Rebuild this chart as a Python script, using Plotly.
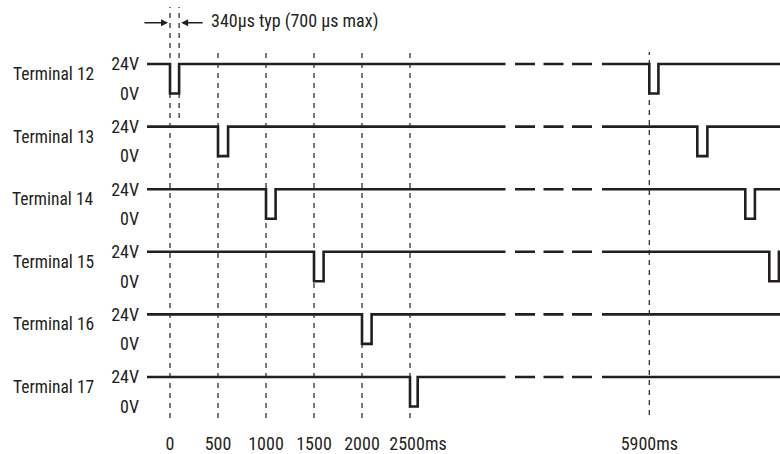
import plotly.graph_objects as go

# ---------------- data ----------------
TERMINALS = ["Terminal 12", "Terminal 13", "Terminal 14", "Terminal 15", "Terminal 16", "Terminal 17"]
PULSE_START_MS = [0, 500, 1000, 1500, 2000, 2500]          # first test pulse (early window)
PULSE_START_LATE_MS = [5900, 6400, 6900, 7150, None, None]  # pulses after the time break
PULSE_WIDTH_MS = [95, 105, 100, 100, 100, 80]
V_HIGH = 24
V_LOW = 0
TICK_MS = [0, 500, 1000, 1500, 2000, 2500]
TICK_LABELS = ["0", "500", "1000", "1500", "2000", "2500ms"]
LATE_TICK_MS = [5900]
LATE_TICK_LABELS = ["5900ms"]
MARKER_TEXT = "340µs typ (700 µs max)"

# ---------------- layout constants (pixels) ----------------
W, H = 780, 454
PX_PER_MS = 0.096
ORIGIN_PX = 170.0        # pixel of 0 ms
LATE_ORIGIN_PX = 649.3   # pixel of 5900 ms
LEFT_START_PX, LEFT_END_PX = 147.0, 505.7
BREAK_START_PX, BREAK_END_PX = 515.0, 592.0
RIGHT_START_PX, RIGHT_END_PX = 602.0, 780.0
ROW_PX = 62.6
TOP_PX = 64.0
AMP_PX = 29.5

INK = "#231f20"
FONT = "Liberation Sans Narrow, Arial Narrow, Roboto Condensed, DejaVu Sans Condensed, sans-serif"


def ms_at(px, origin_px, origin_ms):
    return origin_ms + (px - origin_px) / PX_PER_MS


def yval(row, volts):
    return row + (V_HIGH - volts) / (V_HIGH - V_LOW) * AMP_PX / ROW_PX


def py(px):
    return 1 - px / H


left_range = [ms_at(LEFT_START_PX, ORIGIN_PX, 0), ms_at(LEFT_END_PX, ORIGIN_PX, 0)]
right_range = [ms_at(RIGHT_START_PX, LATE_ORIGIN_PX, LATE_TICK_MS[0]),
               ms_at(RIGHT_END_PX, LATE_ORIGIN_PX, LATE_TICK_MS[0])]

fig = go.Figure()
line = dict(color=INK, width=2.6)

for i, name in enumerate(TERMINALS):
    hi, lo = yval(i, V_HIGH), yval(i, V_LOW)
    t, w = PULSE_START_MS[i], PULSE_WIDTH_MS[i]
    fig.add_trace(go.Scatter(
        x=[left_range[0], t, t, t + w, t + w, left_range[1]],
        y=[hi, hi, lo, lo, hi, hi], mode="lines", line=line,
        xaxis="x", yaxis="y", showlegend=False, hoverinfo="skip"))
    # time-break dashes
    fig.add_trace(go.Scatter(
        x=[0, 1], y=[hi, hi], mode="lines",
        line=dict(color=INK, width=2.6, dash="20px,8.5px"),
        xaxis="x3", yaxis="y", showlegend=False, hoverinfo="skip"))
    tl = PULSE_START_LATE_MS[i]
    if tl is not None:
        xs = [right_range[0], tl, tl, tl + w, tl + w, right_range[1]]
        ys = [hi, hi, lo, lo, hi, hi]
    else:
        xs, ys = [right_range[0], right_range[1]], [hi, hi]
    fig.add_trace(go.Scatter(
        x=xs, y=ys, mode="lines", line=line,
        xaxis="x2", yaxis="y", showlegend=False, hoverinfo="skip"))

# empty trace so the overlaying label axis (x4) is drawn
fig.add_trace(go.Scatter(x=[], y=[], xaxis="x4", yaxis="y", showlegend=False, hoverinfo="skip"))

# y ticks: 24V / 0V for each terminal
ytickvals, yticktext = [], []
for i in range(len(TERMINALS)):
    ytickvals += [yval(i, V_HIGH), yval(i, V_LOW)]
    yticktext += [f"{V_HIGH}V", f"{V_LOW}V"]

y_top = -TOP_PX / ROW_PX
y_bottom = y_top + H / ROW_PX

# vertical dashed reference lines
grid = dict(color=INK, width=1.2, dash="5px,5px")
shapes = []
for t in TICK_MS:
    top = 7 if t == 0 else 50
    shapes.append(dict(type="line", xref="x", yref="paper", x0=t, x1=t,
                       y0=py(418), y1=py(top), line=grid, layer="below"))
marker_t = PULSE_START_MS[0] + PULSE_WIDTH_MS[0]
shapes.append(dict(type="line", xref="x", yref="paper", x0=marker_t, x1=marker_t,
                   y0=py(118), y1=py(7), line=grid, layer="below"))
for t in LATE_TICK_MS:
    shapes.append(dict(type="line", xref="x2", yref="paper", x0=t, x1=t,
                       y0=py(415), y1=py(52), line=grid, layer="below"))

annotations = []
# terminal names
for i, name in enumerate(TERMINALS):
    annotations.append(dict(text=name, xref="paper", x=95.5 / W, xanchor="right",
                            yref="y", y=yval(i, V_HIGH) + 10 / ROW_PX, yanchor="middle",
                            showarrow=False, font=dict(family=FONT, size=17.5, color=INK)))
# width marker arrows + text
arrow = dict(showarrow=True, arrowhead=2, arrowsize=1, arrowwidth=1.4, arrowcolor=INK,
             standoff=2, text="", axref="pixel", ayref="pixel", ay=0)
annotations.append(dict(arrow, x=PULSE_START_MS[0], xref="x", y=py(22.7), yref="paper", ax=-27))
annotations.append(dict(arrow, x=marker_t, xref="x", y=py(22.7), yref="paper", ax=25))
annotations.append(dict(text=MARKER_TEXT, x=marker_t, xref="x", xshift=30, xanchor="left",
                        y=py(21), yref="paper", yanchor="middle", showarrow=False,
                        font=dict(family=FONT, size=18, color=INK)))

axis_common = dict(showgrid=False, zeroline=False, showline=False, ticks="",
                   tickfont=dict(family=FONT, size=18, color=INK), fixedrange=True)
left_domain = [LEFT_START_PX / W, LEFT_END_PX / W]

fig.update_layout(
    width=W, height=H,
    margin=dict(l=0, r=0, t=0, b=0, autoexpand=False),
    paper_bgcolor="white", plot_bgcolor="white",
    font=dict(family=FONT, color=INK),
    xaxis=dict(axis_common, domain=left_domain, range=left_range,
               anchor="free", position=py(431), tickmode="array", tickangle=0,
               tickvals=TICK_MS[:-1], ticktext=TICK_LABELS[:-1]),
    # last label carries the unit and sits slightly right of its tick, as in the reference
    xaxis4=dict(axis_common, domain=left_domain, range=left_range, overlaying="x",
                anchor="free", position=py(431), tickmode="array", tickangle=0,
                tickvals=TICK_MS[-1:], ticktext=TICK_LABELS[-1:], ticklabelshift=8),
    xaxis2=dict(axis_common, domain=[RIGHT_START_PX / W, RIGHT_END_PX / W], range=right_range,
                anchor="free", position=py(431), tickmode="array", tickangle=0,
                tickvals=LATE_TICK_MS, ticktext=LATE_TICK_LABELS),
    xaxis3=dict(axis_common, domain=[BREAK_START_PX / W, BREAK_END_PX / W], range=[0, 1],
                anchor="free", position=py(431), showticklabels=False, visible=False),
    yaxis=dict(axis_common, domain=[0, 1], range=[y_bottom, y_top], anchor="x",
               tickmode="array", tickvals=ytickvals, ticktext=yticktext,
               ticklabelstandoff=7),
    shapes=shapes,
    annotations=annotations,
)

fig.write_html("out.html", config={"displayModeBar": False, "staticPlot": True},
               post_script="document.body.style.margin='0px';document.body.style.overflow='hidden';")
